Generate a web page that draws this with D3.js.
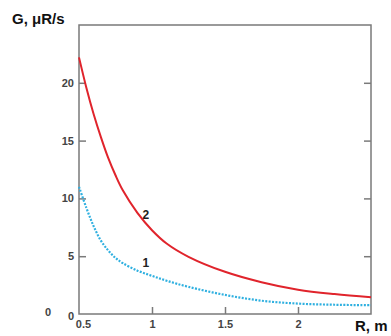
<!DOCTYPE html>
<html>
<head>
<meta charset="utf-8">
<script src="https://cdn.jsdelivr.net/npm/d3@7"></script>
<style>
  body { margin: 0; background: #fff; }
  svg text { font-family: "Liberation Sans", Arial, sans-serif; font-weight: bold; }
</style>
</head>
<body>
<div id="chart"></div>
<script>
// distance R, m
const distances = [0.5, 0.55, 0.6, 0.65, 0.7, 0.75, 0.8, 0.9, 1.0, 1.1, 1.25, 1.5, 1.75, 2.0, 2.25, 2.5];
// curve 1 (dotted blue), μR/s
const curve1 = [11.0, 9.2, 7.6, 6.35, 5.5, 4.85, 4.4, 3.75, 3.3, 2.88, 2.35, 1.65, 1.15, 0.9, 0.8, 0.76];
// curve 2 (red), μR/s
const curve2 = [22.2, 19.6, 17.3, 15.3, 13.5, 12.0, 10.7, 8.75, 7.25, 6.1, 4.95, 3.65, 2.75, 2.1, 1.72, 1.45];
const xTicks = [0.5, 1, 1.5, 2];
const yTicks = [0, 5, 10, 15, 20];

const W = 391, H = 336;
const marginL = 79, marginT = 25, marginR = 20, marginB = 22;
const width = W - marginL - marginR;
const height = H - marginT - marginB;

const svg = d3.select("#chart")
  .append("svg")
  .attr("width", W)
  .attr("height", H);

const g = svg.append("g")
  .attr("transform", "translate(" + marginL + "," + marginT + ")");

const x = d3.scaleLinear().domain([0.5, 2.5]).range([0, width]);
const y = d3.scaleLinear().domain([0, 25]).range([height, 0]);

// frame
g.append("rect")
  .attr("width", width)
  .attr("height", height)
  .attr("fill", "none")
  .attr("stroke", "#7a7a7a")
  .attr("stroke-width", 1.5);

// bottom axis, ticks inward
const xAxis = g.append("g")
  .attr("transform", "translate(0," + height + ")")
  .call(d3.axisBottom(x).tickValues(xTicks).tickSizeInner(-7).tickSizeOuter(0)
    .tickFormat(d => d));
xAxis.select(".domain").remove();
xAxis.selectAll("line").attr("stroke", "#7a7a7a").attr("stroke-width", 1.5)
  .attr("display", d => d === 0.5 ? "none" : null);
xAxis.selectAll("text").attr("y", 6).attr("fill", "#444").style("font-size", "11px")
  .attr("dx", d => d === 0.5 ? 4 : 0);

// left axis, ticks inward
const yAxis = g.append("g")
  .call(d3.axisLeft(y).tickValues(yTicks).tickSizeInner(-7).tickSizeOuter(0));
yAxis.select(".domain").remove();
yAxis.selectAll("line").attr("stroke", "#7a7a7a").attr("stroke-width", 1.5)
  .attr("display", d => d === 0 ? "none" : null);
yAxis.selectAll("text").attr("x", -5).attr("fill", "#444").style("font-size", "11px")
  .attr("dy", d => d === 0 ? "0.5em" : "0.32em");

// right axis, ticks inward
const yAxisR = g.append("g")
  .attr("transform", "translate(" + width + ",0)")
  .call(d3.axisRight(y).tickValues(yTicks.slice(1)).tickSizeInner(-7).tickSizeOuter(0).tickFormat(""));
yAxisR.select(".domain").remove();
yAxisR.selectAll("line").attr("stroke", "#7a7a7a").attr("stroke-width", 1.5);

// stray zero left of the axis
g.append("text")
  .attr("x", -34).attr("y", y(0) + 2)
  .attr("fill", "#444").style("font-size", "11px")
  .text("0");

const line = d3.line()
  .x((d, i) => x(distances[i]))
  .y(d => y(d))
  .curve(d3.curveCatmullRom);

g.append("path")
  .datum(curve1)
  .attr("d", line)
  .attr("fill", "none")
  .attr("stroke", "#2fb0e0")
  .attr("stroke-width", 2.2)
  .attr("stroke-dasharray", "2,1.4");

g.append("path")
  .datum(curve2)
  .attr("d", line)
  .attr("fill", "none")
  .attr("stroke", "#e0242c")
  .attr("stroke-width", 2);

// curve labels
g.append("text")
  .attr("x", x(0.935)).attr("y", y(8.2))
  .attr("fill", "#222").style("font-size", "12px")
  .text("2");
g.append("text")
  .attr("x", x(0.935)).attr("y", y(4.1))
  .attr("fill", "#222").style("font-size", "12px")
  .text("1");

// axis titles
svg.append("text")
  .attr("x", 12).attr("y", 24)
  .attr("fill", "#111").style("font-size", "15px")
  .text("G, μR/s");
svg.append("text")
  .attr("x", 355).attr("y", 331)
  .attr("fill", "#111").style("font-size", "15px")
  .text("R, m");
</script>
</body>
</html>
